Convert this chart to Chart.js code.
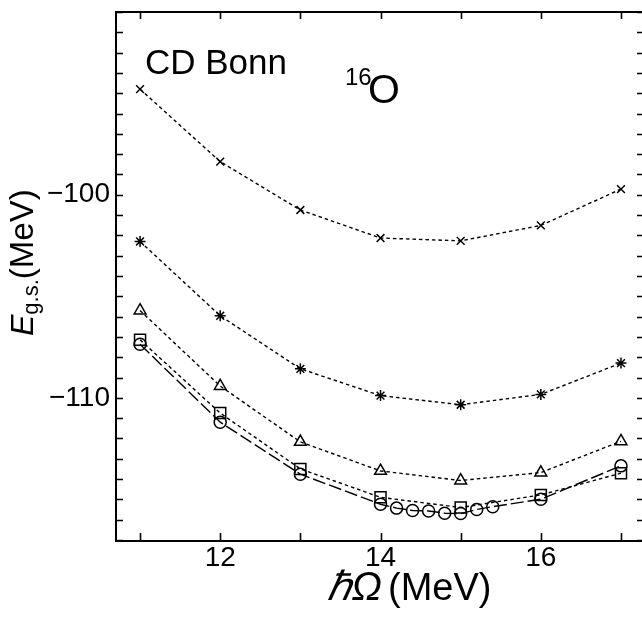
<!DOCTYPE html>
<html><head><meta charset="utf-8">
<style>html,body{margin:0;padding:0;background:#fff;overflow:hidden}canvas{display:block}</style>
<script src="https://cdn.jsdelivr.net/npm/chart.js@4.4.1/dist/chart.umd.min.js"></script>
</head><body>
<canvas id="c" width="642" height="618"></canvas>
<script>
// ---- data ----
const hbarOmega = [11, 12, 13, 14, 15, 16, 17];
const eCross    = [-94.8, -98.37, -100.75, -102.13, -102.27, -101.51, -99.72];
const eStar     = [-102.3, -105.96, -108.57, -109.89, -110.34, -109.83, -108.29];
const eTriangle = [-105.7, -109.42, -112.17, -113.6, -114.07, -113.68, -112.14];
const eSquare   = [-107.14, -110.75, -113.5, -114.9, -115.4, -114.78, -113.71];
const hbarOmegaFine = [11, 12, 13, 14, 14.2, 14.4, 14.6, 14.8, 15, 15.2, 15.4, 16, 17];
const eCircle   = [-107.36, -111.2, -113.76, -115.24, -115.43, -115.55, -115.57, -115.68, -115.7, -115.5, -115.36, -114.99, -113.35];
const xTickValues = [12, 14, 16];
const yTickValues = [-110, -100];
const xRange = [10.70, 17.262];
const yRange = [-117.05, -91];

const FONT = '"Liberation Sans", Arial, Helvetica, sans-serif';
const pts = (xs, ys) => xs.map((v, i) => ({x: v, y: ys[i]}));

function ds(data, style, radius, dash) {
  return {
    data, pointStyle: style, pointRadius: radius, pointHoverRadius: radius,
    borderColor: '#000', backgroundColor: 'rgba(0,0,0,0)',
    pointBorderColor: '#000', pointBackgroundColor: 'rgba(0,0,0,0)',
    borderWidth: 1.4, pointBorderWidth: 1.5, borderDash: dash,
    tension: 0, fill: false, clip: false
  };
}

const decor = {
  id: 'decor',
  afterDraw(chart) {
    const {ctx, chartArea: a, scales: {x, y}} = chart;
    ctx.save();
    ctx.strokeStyle = '#000';
    // frame
    ctx.lineWidth = 2;
    ctx.beginPath();
    ctx.moveTo(a.right + 2, a.top); ctx.lineTo(a.left, a.top);
    ctx.lineTo(a.left, a.bottom); ctx.lineTo(a.right + 2, a.bottom);
    ctx.stroke();
    // inward ticks
    ctx.lineWidth = 1.6;
    ctx.beginPath();
    for (let v = Math.ceil(x.min); v <= x.max; v++) {
      const px = Math.round(x.getPixelForValue(v)) + 0.5;
      ctx.moveTo(px, a.bottom); ctx.lineTo(px, a.bottom - 8);
      ctx.moveTo(px, a.top); ctx.lineTo(px, a.top + 7);
    }
    for (let v = Math.ceil(y.min); v <= y.max; v++) {
      const py = Math.round(y.getPixelForValue(v)) + 0.5;
      ctx.moveTo(a.left, py); ctx.lineTo(a.left + 7, py);
      ctx.moveTo(a.right, py); ctx.lineTo(a.right - 5, py);
    }
    ctx.stroke();

    ctx.fillStyle = '#000';
    ctx.textBaseline = 'alphabetic';
    ctx.textAlign = 'left';
    // CD Bonn
    ctx.font = '35px ' + FONT;
    ctx.fillText('CD Bonn', 145, 74);
    // 16O
    ctx.font = '24px ' + FONT;
    ctx.fillText('16', 345, 85);
    ctx.font = '41px ' + FONT;
    ctx.fillText('O', 368, 103);

    // x axis title
    const italic = 'italic 40px ' + FONT;
    const normal = '38px ' + FONT;
    const gap = 6;
    ctx.font = italic; const w1 = ctx.measureText('\u210F\u03A9').width;
    ctx.font = normal; const w2 = ctx.measureText('(MeV)').width;
    let sx = 409 - (w1 + w2 + gap) / 2;
    ctx.font = italic; ctx.fillText('\u210F\u03A9', sx, 600);
    ctx.font = normal; ctx.fillText('(MeV)', sx + w1 + gap, 600);

    // y axis title (rotated)
    ctx.translate(33, 336);
    ctx.rotate(-Math.PI / 2);
    ctx.font = 'italic 32px ' + FONT;
    ctx.fillText('E', 0, 0);
    let ox = ctx.measureText('E').width;
    ctx.font = '22px ' + FONT;
    ctx.fillText('g.s.', ox, 5);
    ox += ctx.measureText('g.s.').width;
    ctx.font = '33px ' + FONT;
    ctx.fillText('(MeV)', ox, 0);
    ctx.restore();
  }
};

new Chart(document.getElementById('c'), {
  type: 'line',
  data: {
    datasets: [
      ds(pts(hbarOmega, eCross), 'crossRot', 5.5, [3.5, 3]),
      ds(pts(hbarOmega, eStar), 'star', 5.5, [3.5, 3]),
      ds(pts(hbarOmega, eTriangle), 'triangle', 6.8, [3.5, 3]),
      ds(pts(hbarOmega, eSquare), 'rect', 7.8, [3.5, 3]),
      ds(pts(hbarOmegaFine, eCircle), 'circle', 6, [13, 4])
    ]
  },
  options: {
    responsive: false, animation: false, devicePixelRatio: 1,
    layout: {autoPadding: false, padding: {top: 12, left: 0, right: 0, bottom: 0}},
    plugins: {legend: {display: false}, tooltip: {enabled: false}, title: {display: false}},
    scales: {
      x: {
        type: 'linear', min: xRange[0], max: xRange[1],
        grid: {display: false, drawTicks: false}, border: {display: false},
        afterBuildTicks: s => { s.ticks = xTickValues.map(v => ({value: v})); },
        afterFit: s => { s.height = 77; s.paddingLeft = 0; s.paddingRight = 0; },
        ticks: {color: '#000', font: {family: FONT, size: 28}, padding: 0, maxRotation: 0,
                callback: v => String(v)}
      },
      y: {
        type: 'linear', min: yRange[0], max: yRange[1],
        grid: {display: false, drawTicks: false}, border: {display: false},
        afterBuildTicks: s => { s.ticks = yTickValues.map(v => ({value: v})); },
        afterFit: s => { s.width = 116; s.paddingTop = 0; s.paddingBottom = 0; },
        ticks: {color: '#000', font: {family: FONT, size: 28}, padding: 6,
                callback: v => (v < 0 ? '\u2212' + Math.abs(v) : String(v))}
      }
    }
  },
  plugins: [decor]
});
</script>
</body></html>
